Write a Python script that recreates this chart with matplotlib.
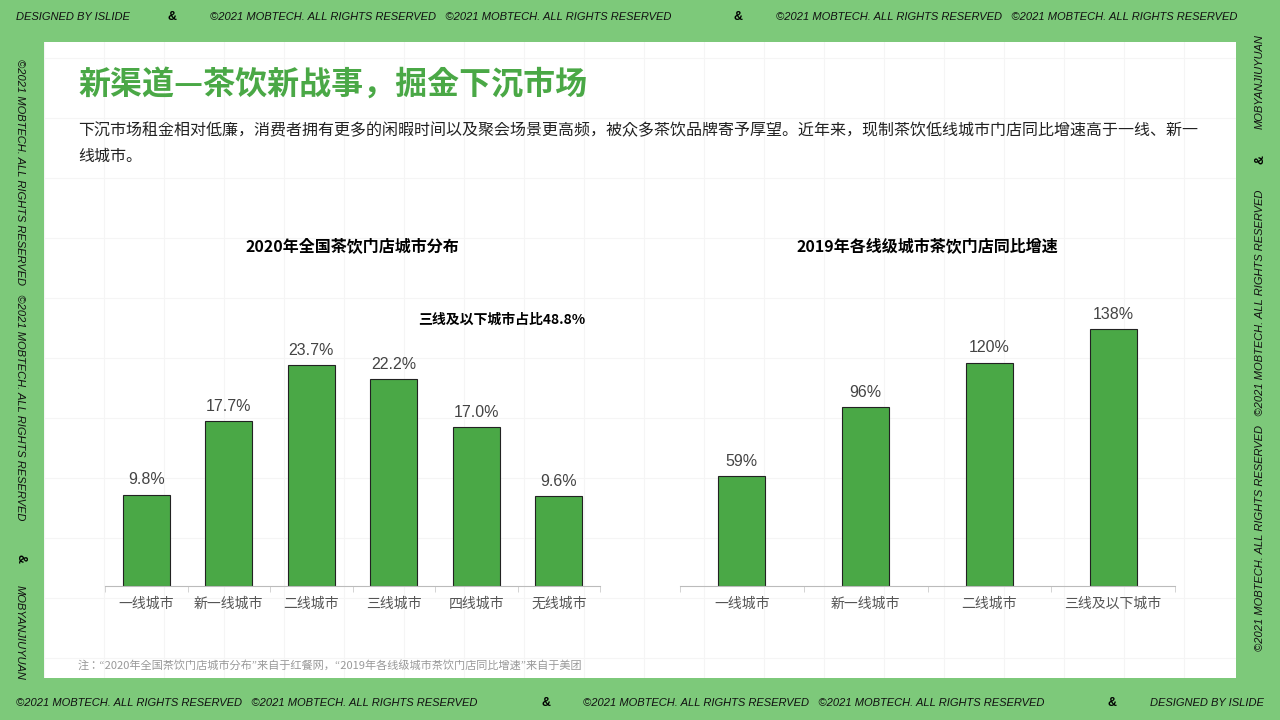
import matplotlib
matplotlib.use("Agg")
import matplotlib.pyplot as plt
from matplotlib import font_manager

names = sorted({f.name for f in font_manager.fontManager.ttflist if "CJK" in f.name})
pref = [n for n in ["Noto Sans CJK SC", "Noto Sans CJK JP", "Noto Sans CJK TC", "Noto Sans CJK KR"] if n in names] + names
plt.rcParams["font.family"] = "sans-serif"
plt.rcParams["font.sans-serif"] = pref[:1] + ["DejaVu Sans"]
LAT = "Liberation Sans"

cats1 = ["一线城市", "新一线城市", "二线城市", "三线城市", "四线城市", "无线城市"]
vals1 = [9.8, 17.7, 23.7, 22.2, 17.0, 9.6]
cats2 = ["一线城市", "新一线城市", "二线城市", "三线及以下城市"]
vals2 = [59, 96, 120, 138]

W, H = 1280, 720
fig = plt.figure(figsize=(W/100, H/100), dpi=100)
fig.patch.set_facecolor("#7dc97a")

def fx(x): return x / W
def fy(y): return 1 - y / H

bg = fig.add_axes([fx(44), fy(678), fx(1236-44), (678-42)/H])
bg.set_xlim(0, 1192); bg.set_ylim(636, 0)
bg.set_facecolor("white")
for s in bg.spines.values(): s.set_visible(False)
bg.set_xticks([]); bg.set_yticks([])
for gx in range(0, 1192, 60):
    bg.axvline(gx, color="#f5f5f5", lw=0.8)
for gy in range(16, 636, 60):
    bg.axhline(gy, color="#f5f5f5", lw=0.8)

bt = dict(fontsize=8, style="italic", color="#111", family=LAT)
amp = dict(fontsize=9, weight="bold", family=LAT)
fig.text(fx(16), fy(17), "DESIGNED BY ISLIDE", va="center", **bt)
fig.text(fx(168), fy(17), "&", va="center", **amp)
fig.text(fx(210), fy(17), "©2021 MOBTECH. ALL RIGHTS RESERVED   ©2021 MOBTECH. ALL RIGHTS RESERVED", va="center", **bt)
fig.text(fx(734), fy(17), "&", va="center", **amp)
fig.text(fx(776), fy(17), "©2021 MOBTECH. ALL RIGHTS RESERVED   ©2021 MOBTECH. ALL RIGHTS RESERVED", va="center", **bt)
fig.text(fx(16), fy(703), "©2021 MOBTECH. ALL RIGHTS RESERVED   ©2021 MOBTECH. ALL RIGHTS RESERVED", va="center", **bt)
fig.text(fx(541), fy(703), "&", va="center", **amp)
fig.text(fx(583), fy(703), "©2021 MOBTECH. ALL RIGHTS RESERVED   ©2021 MOBTECH. ALL RIGHTS RESERVED", va="center", **bt)
fig.text(fx(1107), fy(703), "&", va="center", **amp)
fig.text(fx(1150), fy(703), "DESIGNED BY ISLIDE", va="center", **bt)
fig.text(fx(20), fy(290), "©2021 MOBTECH. ALL RIGHTS RESERVED   ©2021 MOBTECH. ALL RIGHTS RESERVED", rotation=-90, ha="center", va="center", **bt)
fig.text(fx(20), fy(558), "&", rotation=-90, ha="center", va="center", **amp)
fig.text(fx(20), fy(632), "MOBYANJIUYUAN", rotation=-90, ha="center", va="center", **bt)
fig.text(fx(1260), fy(82), "MOBYANJIUYUAN", rotation=90, ha="center", va="center", **bt)
fig.text(fx(1260), fy(160), "&", rotation=90, ha="center", va="center", **amp)
fig.text(fx(1260), fy(420), "©2021 MOBTECH. ALL RIGHTS RESERVED   ©2021 MOBTECH. ALL RIGHTS RESERVED", rotation=90, ha="center", va="center", **bt)

fig.text(fx(78), fy(85), "新渠道—茶饮新战事，掘金下沉市场", fontsize=23, weight="bold", color="#4aa846", va="center")
fig.text(fx(78), fy(131), "下沉市场租金相对低廉，消费者拥有更多的闲暇时间以及聚会场景更高频，被众多茶饮品牌寄予厚望。近年来，现制茶饮低线城市门店同比增速高于一线、新一",
         fontsize=11.5, color="#222", va="center")
fig.text(fx(78), fy(156), "线城市。", fontsize=11.5, color="#222", va="center")
fig.text(fx(78), fy(665), "注：“2020年全国茶饮门店城市分布”来自于红餐网，“2019年各线级城市茶饮门店同比增速”来自于美团",
         fontsize=8, color="#999", va="center")

GREEN = "#4aa846"

def chart(x0, x1, cats, vals, ymax, fmt, title, top, width):
    ax = fig.add_axes([fx(x0), fy(586), fx(x1-x0), (586-top)/H])
    ax.patch.set_alpha(0)
    n = len(cats)
    ax.bar(range(n), vals, width=width, color=GREEN, edgecolor="#222", lw=0.8)
    ax.set_xlim(-0.5, n-0.5); ax.set_ylim(0, ymax)
    for i, v in enumerate(vals):
        ax.text(i, v + ymax*0.025, fmt(v), ha="center", va="bottom", fontsize=11.5, color="#444", family=LAT)
    for s in ["top", "right", "left"]: ax.spines[s].set_visible(False)
    ax.spines["bottom"].set_color("#bbb")
    ax.set_yticks([])
    ax.set_xticks(range(n)); ax.set_xticklabels(cats, fontsize=10, color="#555")
    ax.set_xticks([i-0.5 for i in range(n+1)], minor=True)
    ax.tick_params(axis="x", which="major", length=0, pad=8)
    ax.tick_params(axis="x", which="minor", length=4, color="#ccc")
    fig.text(fx((x0+x1)/2), fy(247), title, ha="center", va="center", fontsize=11.5, weight="bold")
    return ax

chart(105, 600, cats1, vals1, (586-300)/((586-365)/23.7), lambda v: f"{v:.1f}%", "2020年全国茶饮门店城市分布", 300, 0.57)
chart(680, 1175, cats2, vals2, (586-300)/((586-329)/138), lambda v: f"{v:.0f}%", "2019年各线级城市茶饮门店同比增速", 300, 0.38)
fig.text(fx(502), fy(320), "三线及以下城市占比48.8%", ha="center", va="center", fontsize=10, weight="bold")

fig.savefig("out.png", dpi=100, facecolor=fig.get_facecolor())
